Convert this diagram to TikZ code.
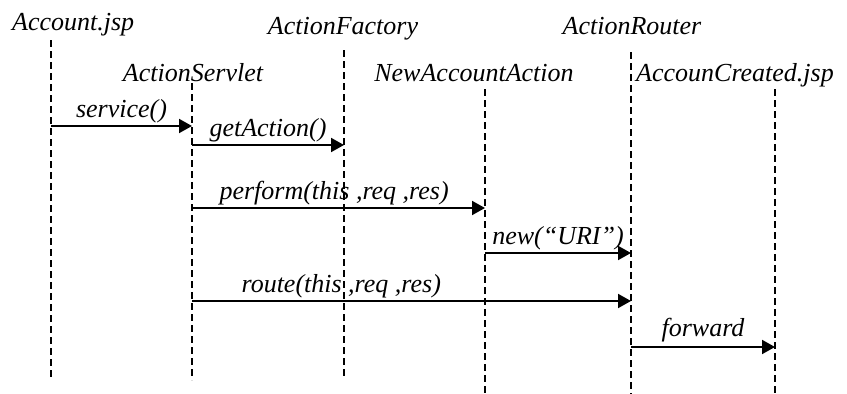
\documentclass[tikz,border=0pt]{standalone}
\usepackage{fontspec}
\setmainfont{Liberation Serif}
\usetikzlibrary{arrows.meta}

\def \xAcc {51}
\def \xServ {192}
\def \xFact {344}
\def \xNew {485}
\def \xRout {631}
\def \xDone {775}

\tikzset{
  lifeline/.style={line width=1.6pt, dash pattern=on 7pt off 4pt},
  msg/.style={line width=2pt, -{Triangle[length=13pt,width=14pt]}},
  objname/.style={font=\itshape\fontsize{26}{30}\selectfont, inner sep=0pt},
  msgname/.style={font=\itshape\fontsize{26}{30}\selectfont, inner sep=0pt, anchor=base, yshift=9pt}
}

\begin{document}
\begin{tikzpicture}[x=1pt, y=-1pt]
         \useasboundingbox (0, 0) rectangle (847, 394);
         % object names
         \node[objname, anchor=base west] (accName) at (12, 30) {Account.jsp};
         \node[objname, anchor=base] (factName) at (343, 34) {ActionFactory};
         \node[objname, anchor=base] (routName) at (632, 34) {ActionRouter};
         \node[objname, anchor=base] (servName) at (193, 81) {ActionServlet};
         \node[objname, anchor=base] (newName) at (474, 81) {NewAccountAction};
         \node[objname, anchor=base west] (doneName) at (636, 81) {AccounCreated.jsp};
         % lifelines
         \coordinate (accTop) at (\xAcc, 40);   \coordinate (accBot) at (\xAcc, 378);
         \coordinate (servTop) at (\xServ, 83); \coordinate (servBot) at (\xServ, 380);
         \coordinate (factTop) at (\xFact, 50); \coordinate (factBot) at (\xFact, 378);
         \coordinate (newTop) at (\xNew, 89);   \coordinate (newBot) at (\xNew, 394);
         \coordinate (routTop) at (\xRout, 52); \coordinate (routBot) at (\xRout, 394);
         \coordinate (doneTop) at (\xDone, 89); \coordinate (doneBot) at (\xDone, 394);
         \draw[lifeline] (accTop) -- (accBot);
         \draw[lifeline] (servTop) -- (servBot);
         \draw[lifeline] (factTop) -- (factBot);
         \draw[lifeline] (newTop) -- (newBot);
         \draw[lifeline] (routTop) -- (routBot);
         \draw[lifeline] (doneTop) -- (doneBot);
         % messages
         \coordinate (serviceA) at (\xAcc, 126);  \coordinate (serviceB) at (\xServ, 126);
         \coordinate (getA) at (\xServ, 145);     \coordinate (getB) at (\xFact, 145);
         \coordinate (performA) at (\xServ, 208); \coordinate (performB) at (\xNew, 208);
         \coordinate (uriA) at (\xNew, 253);      \coordinate (uriB) at (\xRout, 253);
         \coordinate (routeA) at (\xServ, 301);   \coordinate (routeB) at (\xRout, 301);
         \coordinate (fwdA) at (\xRout, 347);     \coordinate (fwdB) at (\xDone, 347);
         \draw[msg] (serviceA) -- (serviceB) node[msgname, midway] {service()};
         \draw[msg] (getA) -- (getB) node[msgname, midway] {getAction()};
         \draw[msg] (performA) -- (performB) node[msgname, pos=0.485] {perform(this ,req ,res)};
         \draw[msg] (uriA) -- (uriB) node[msgname, midway] {new(“URI”)};
         \draw[msg] (routeA) -- (routeB) node[msgname, pos=0.34] {route(this ,req ,res)};
         \draw[msg] (fwdA) -- (fwdB) node[msgname, midway, yshift=2pt] {forward};
      \end{tikzpicture}
\end{document}
